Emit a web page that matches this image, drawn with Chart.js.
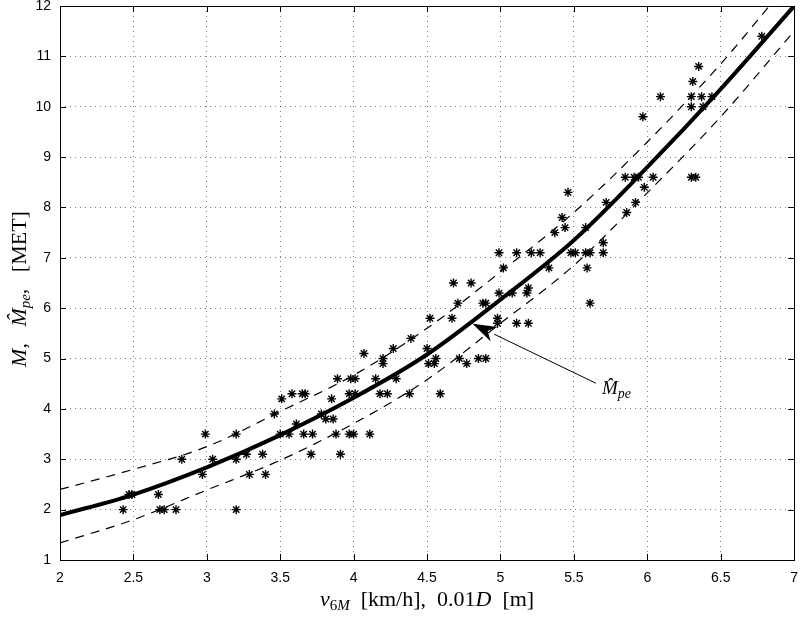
<!DOCTYPE html>
<html>
<head>
<meta charset="utf-8">
<script src="https://cdn.jsdelivr.net/npm/chart.js@4.4.1/dist/chart.umd.min.js"></script>
<style>
html, body { margin:0; padding:0; background:#fff; }
#wrap { width:800px; height:618px; }
</style>
</head>
<body>
<div id="wrap"><canvas id="myChart"></canvas></div>
<script>
// measured points (speed / distance, MET)
const measSpeed = [2.43, 2.47, 2.49, 2.67, 2.68, 2.71, 2.79, 2.83, 2.99, 2.97, 3.04, 3.20, 3.20, 3.20, 3.27, 3.29, 3.38, 3.40, 3.46, 3.50,
  3.56, 3.51, 3.58, 3.61, 3.65, 3.67, 3.78, 3.81, 3.86, 3.66, 3.72, 3.85, 3.89, 3.88, 3.97, 4.00, 4.11, 3.71, 3.91, 3.97,
  4.01, 3.98, 4.01, 4.07, 4.15, 4.18, 4.23, 4.20, 4.20, 4.27, 4.29, 4.38, 4.39, 4.50, 4.51, 4.55, 4.56, 4.59, 4.52, 4.67,
  4.68, 4.71, 4.80, 4.72, 4.77, 4.85, 4.90, 4.88, 4.90, 4.98, 4.98, 4.99, 5.11, 5.19, 4.99, 5.11, 5.02, 5.08, 5.18, 5.21,
  5.27, 5.19, 5.33, 5.37, 5.44, 5.42, 5.46, 5.48, 5.51, 5.58, 5.61, 5.70, 5.58, 5.59, 5.61, 5.70, 5.72, 5.86, 5.92, 5.85,
  5.91, 5.94, 5.98, 6.04, 6.78, 6.35, 6.31, 6.09, 6.30, 6.37, 6.44, 6.30, 6.38, 5.97, 6.30, 6.33];
const measMet = [2.0, 2.3, 2.3, 2.3, 2.0, 2.0, 2.0, 3.0, 3.5, 2.7, 3.0, 3.5, 3.0, 2.0, 3.1, 2.7, 3.1, 2.7, 3.9, 3.5,
  3.5, 4.2, 4.3, 3.7, 4.3, 4.3, 3.9, 3.8, 3.8, 3.5, 3.5, 4.2, 4.6, 3.5, 3.5, 3.5, 3.5, 3.1, 3.1, 4.3,
  4.3, 4.6, 4.6, 5.1, 4.6, 4.3, 4.3, 5.0, 4.9, 5.2, 4.6, 4.3, 5.4, 5.2, 4.9, 4.9, 5.0, 4.3, 5.8, 5.8,
  6.5, 6.1, 6.5, 5.0, 4.9, 5.0, 5.0, 6.1, 6.1, 5.8, 5.7, 6.3, 5.7, 5.7, 7.1, 7.1, 6.8, 6.3, 6.3, 7.1,
  7.1, 6.4, 6.8, 7.5, 7.6, 7.8, 8.3, 7.1, 7.1, 7.1, 7.1, 7.1, 7.6, 6.8, 6.1, 7.3, 8.1, 7.9, 8.1, 8.6,
  8.6, 8.6, 8.4, 8.6, 11.4, 10.8, 10.5, 10.2, 10.2, 10.2, 10.2, 10.0, 10.0, 9.8, 8.6, 8.6];

// model curve and band
const curveSpeed = [2, 2.5, 3, 3.5, 4, 4.5, 5, 5.5, 6, 6.5, 7];
const curveFit   = [1.89, 2.30, 2.84, 3.48, 4.22, 5.08, 6.17, 7.35, 8.80, 10.35, 12.0];
const curveUpper = [2.40, 2.80, 3.25, 3.95, 4.67, 5.60, 6.72, 7.90, 9.30, 10.85, 12.6];
const curveLower = [1.34, 1.80, 2.39, 2.98, 3.71, 4.58, 5.70, 6.85, 8.29, 9.80, 11.5];

const xTickValues = [2, 2.5, 3, 3.5, 4, 4.5, 5, 5.5, 6, 6.5, 7];
const yTickValues = [1, 2, 3, 4, 5, 6, 7, 8, 9, 10, 11, 12];

// arrow annotation, in data units
const arrowFrom = [5.65, 4.51];
const arrowTo = [4.81, 5.69];
const arrowLabelAt = [5.79, 4.30];

function pts(xs, ys) {
  return xs.map(function(x, i) { return {x: x, y: ys[i]}; });
}

const serif = '"Liberation Serif", "DejaVu Serif", serif';

function richText(ctx, parts, cx, cy) {
  let w = 0;
  parts.forEach(function(p) {
    ctx.font = (p.it ? 'italic ' : '') + p.size + 'px ' + serif;
    p.w = ctx.measureText(p.t).width;
    w += p.w;
  });
  let x = cx - w / 2;
  ctx.textBaseline = 'alphabetic';
  ctx.textAlign = 'left';
  parts.forEach(function(p) {
    ctx.font = (p.it ? 'italic ' : '') + p.size + 'px ' + serif;
    ctx.fillText(p.t, x, cy + (p.dy || 0));
    x += p.w;
  });
}

const matlabLook = {
  id: 'matlabLook',
  afterDraw: function(chart) {
    const ctx = chart.ctx;
    const a = chart.chartArea;
    const xs = chart.scales.x, ys = chart.scales.y;
    ctx.save();
    ctx.strokeStyle = '#000';
    ctx.lineWidth = 1;
    ctx.setLineDash([]);
    // inward tick marks on all four sides
    ctx.beginPath();
    xTickValues.forEach(function(v) {
      const px = Math.round(xs.getPixelForValue(v)) + 0.5;
      ctx.moveTo(px, a.bottom); ctx.lineTo(px, a.bottom - 6);
      ctx.moveTo(px, a.top); ctx.lineTo(px, a.top + 6);
    });
    yTickValues.forEach(function(v) {
      const py = Math.round(ys.getPixelForValue(v)) + 0.5;
      ctx.moveTo(a.left, py); ctx.lineTo(a.left + 6, py);
      ctx.moveTo(a.right, py); ctx.lineTo(a.right - 6, py);
    });
    ctx.stroke();
    ctx.strokeRect(Math.round(a.left) + 0.5, Math.round(a.top) + 0.5,
      Math.round(a.right - a.left), Math.round(a.bottom - a.top));

    // arrow
    const x1 = xs.getPixelForValue(arrowFrom[0]), y1 = ys.getPixelForValue(arrowFrom[1]);
    const x2 = xs.getPixelForValue(arrowTo[0]), y2 = ys.getPixelForValue(arrowTo[1]);
    const ang = Math.atan2(y2 - y1, x2 - x1);
    const len = 24, half = 8;
    const bx = x2 - len * Math.cos(ang), by = y2 - len * Math.sin(ang);
    ctx.beginPath();
    ctx.moveTo(x1, y1); ctx.lineTo(bx, by);
    ctx.stroke();
    ctx.fillStyle = '#000';
    ctx.beginPath();
    ctx.moveTo(x2, y2);
    ctx.lineTo(bx + half * Math.sin(ang), by - half * Math.cos(ang));
    ctx.lineTo(x2 - 0.7 * len * Math.cos(ang), y2 - 0.7 * len * Math.sin(ang));
    ctx.lineTo(bx - half * Math.sin(ang), by + half * Math.cos(ang));
    ctx.closePath();
    ctx.fill();

    // arrow label
    ctx.fillStyle = '#000';
    richText(ctx, [
      {t: 'M\u0302', it: true, size: 19},
      {t: 'pe', it: true, size: 14, dy: 4}
    ], xs.getPixelForValue(arrowLabelAt[0]), ys.getPixelForValue(arrowLabelAt[1]));

    // x title
    richText(ctx, [
      {t: 'v', it: true, size: 22},
      {t: '6', size: 15, dy: 4},
      {t: 'M', it: true, size: 15, dy: 4},
      {t: '  [km/h],  0.01', size: 22},
      {t: 'D', it: true, size: 22},
      {t: '  [m]', size: 22}
    ], (a.left + a.right) / 2, 606);

    // y title, rotated
    ctx.translate(26, (a.top + a.bottom) / 2 + 6);
    ctx.rotate(-Math.PI / 2);
    richText(ctx, [
      {t: 'M', it: true, size: 22},
      {t: ',\u2002 ', size: 22},
      {t: 'M\u0302', it: true, size: 22},
      {t: 'pe', it: true, size: 15, dy: 4},
      {t: ',\u2002 [MET]', size: 22}
    ], 0, 0);
    ctx.restore();
  }
};

function plainLabel(v) {
  return String(Math.round(v * 10) / 10);
}

const ctx = document.getElementById('myChart').getContext('2d');
const chart = new Chart(ctx, {
  type: 'scatter',
  data: {
    datasets: [
      {
        label: 'fit',
        data: pts(curveSpeed, curveFit),
        showLine: true,
        borderColor: '#000',
        borderWidth: 4,
        pointRadius: 0,
        cubicInterpolationMode: 'monotone',
        order: 1
      },
      {
        label: 'upper',
        data: pts(curveSpeed, curveUpper),
        showLine: true,
        borderColor: '#000',
        borderWidth: 1.2,
        borderDash: [9, 7],
        pointRadius: 0,
        cubicInterpolationMode: 'monotone',
        order: 2
      },
      {
        label: 'lower',
        data: pts(curveSpeed, curveLower),
        showLine: true,
        borderColor: '#000',
        borderWidth: 1.2,
        borderDash: [9, 7],
        pointRadius: 0,
        cubicInterpolationMode: 'monotone',
        order: 3
      },
      {
        label: 'measured',
        data: pts(measSpeed, measMet),
        pointStyle: 'star',
        pointRadius: 4.5,
        borderColor: '#000',
        backgroundColor: '#000',
        borderWidth: 1.4,
        order: 0
      }
    ]
  },
  options: {
    responsive: true,
    maintainAspectRatio: false,
    animation: false,
    events: [],
    layout: { padding: { left: 0, right: 5, top: 6, bottom: 0 } },
    plugins: { legend: { display: false }, tooltip: { enabled: false } },
    scales: {
      x: {
        type: 'linear',
        min: 2, max: 7,
        afterFit: function(s) { s.height = 58; s.paddingLeft = 0; s.paddingRight = 0; },
        afterBuildTicks: function(s) { s.ticks = xTickValues.map(function(v) { return {value: v}; }); },
        ticks: { color: '#000', font: { family: '"Liberation Sans", Arial, sans-serif', size: 14 }, padding: 10, maxRotation: 0, autoSkip: false,
          callback: function(v) { return plainLabel(v); } },
        grid: { color: 'rgba(0,0,0,0.5)', drawTicks: false, lineWidth: 1 },
        border: { display: false, dash: [1, 4] }
      },
      y: {
        type: 'linear',
        min: 1, max: 12,
        afterFit: function(s) { s.width = 60; s.paddingTop = 0; s.paddingBottom = 0; },
        afterBuildTicks: function(s) { s.ticks = yTickValues.map(function(v) { return {value: v}; }); },
        ticks: { color: '#000', font: { family: '"Liberation Sans", Arial, sans-serif', size: 14 }, padding: 9, autoSkip: false,
          callback: function(v) { return plainLabel(v); } },
        grid: { color: 'rgba(0,0,0,0.5)', drawTicks: false, lineWidth: 1 },
        border: { display: false, dash: [1, 4] }
      }
    }
  },
  plugins: [matlabLook]
});
</script>
</body>
</html>
